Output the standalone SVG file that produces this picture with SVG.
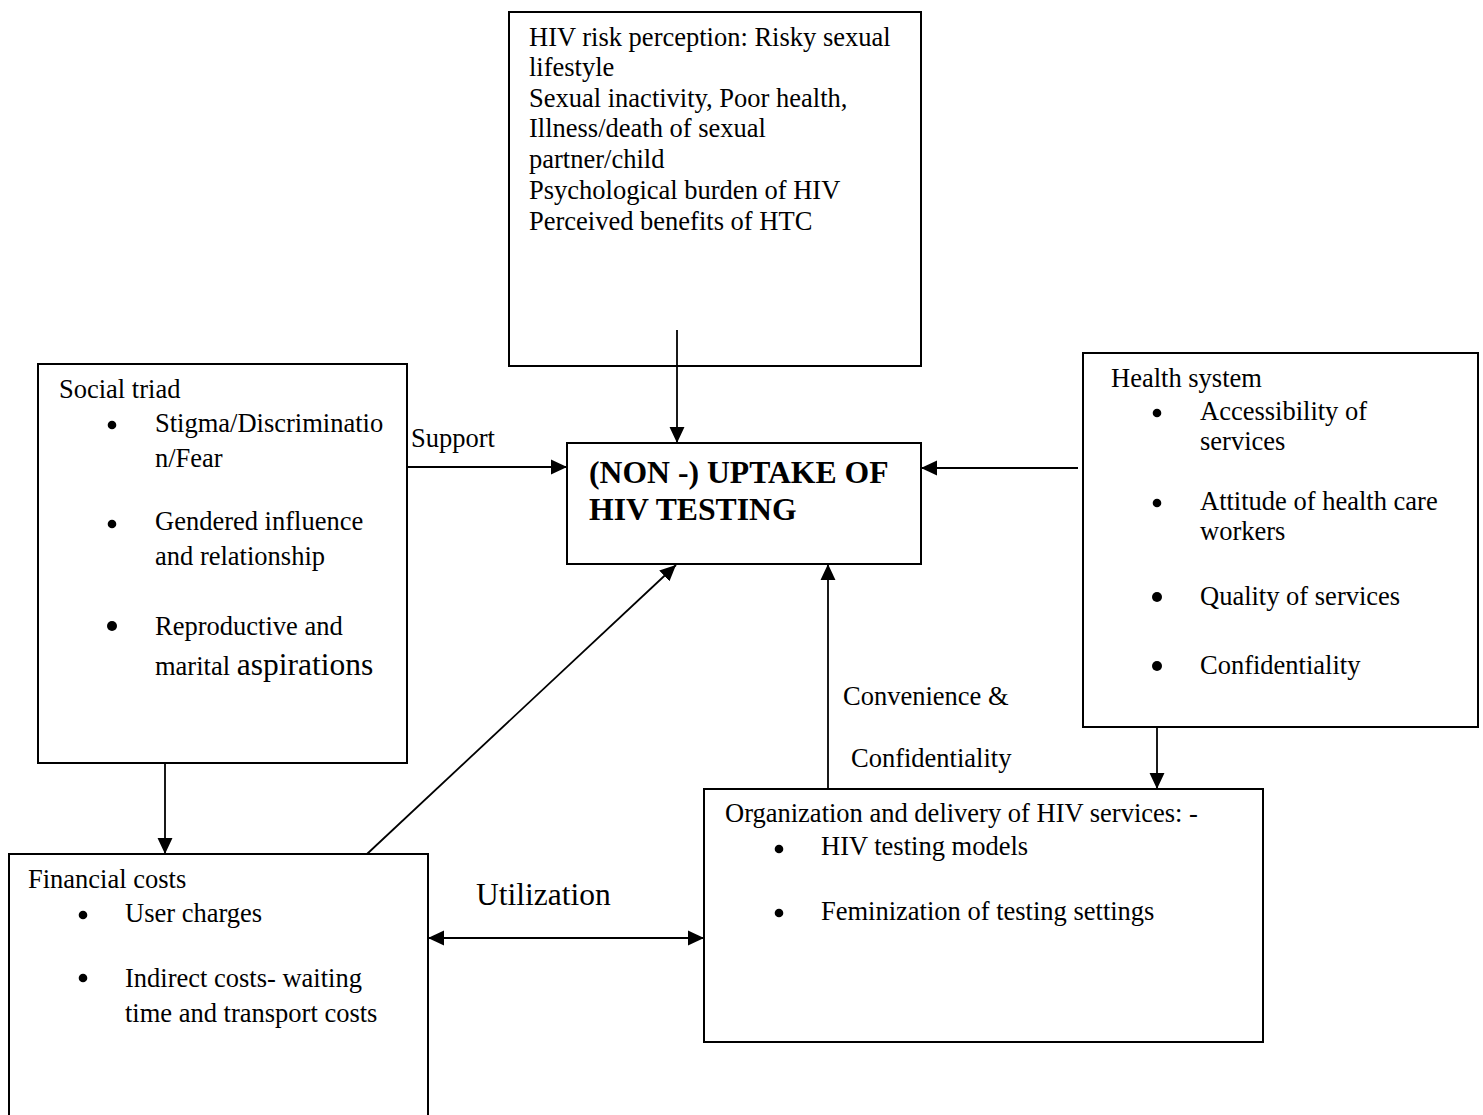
<svg xmlns="http://www.w3.org/2000/svg" width="1483" height="1115" viewBox="0 0 1483 1115">
<defs>
<style>
.box{fill:#fff;stroke:#000;stroke-width:2}
.t{font-family:"Liberation Serif","Times New Roman",serif;font-size:26.5px;fill:#000}
.big{font-size:31.5px}
.title{font-family:"Liberation Serif","Times New Roman",serif;font-size:31.7px;font-weight:bold;fill:#000}
.dot{fill:#000}
.c{stroke:#000;stroke-width:1.8;fill:none}
</style>
<marker id="ah" markerUnits="userSpaceOnUse" markerWidth="16" markerHeight="16" refX="15" refY="7" orient="auto-start-reverse" viewBox="0 0 15 14">
<path d="M0,0 L15,7 L0,14 z" fill="#000"/>
</marker>
</defs>
<rect width="1483" height="1115" fill="#fff"/>

<g id="risk">
<rect class="box" x="509" y="12" width="412" height="354"/>
<text class="t" x="529" y="46">HIV risk perception: Risky sexual</text>
<text class="t" x="529" y="76">lifestyle</text>
<text class="t" x="529" y="107">Sexual inactivity, Poor health,</text>
<text class="t" x="529" y="137">Illness/death of sexual</text>
<text class="t" x="529" y="168">partner/child</text>
<text class="t" x="529" y="199">Psychological burden of HIV</text>
<text class="t" x="529" y="230">Perceived benefits of HTC</text>
</g>

<g id="uptake">
<rect class="box" x="567" y="443" width="354" height="121"/>
<text class="title" x="589" y="483">(NON -) UPTAKE OF</text>
<text class="title" x="589" y="520">HIV TESTING</text>
</g>

<g id="social">
<rect class="box" x="38" y="364" width="369" height="399"/>
<text class="t" x="59" y="398">Social triad</text>
<circle class="dot" cx="112" cy="425" r="4.3"/>
<text class="t" x="155" y="432">Stigma/Discriminatio</text>
<text class="t" x="155" y="467">n/Fear</text>
<circle class="dot" cx="112" cy="524" r="4.3"/>
<text class="t" x="155" y="530">Gendered influence</text>
<text class="t" x="155" y="565">and relationship</text>
<circle class="dot" cx="112" cy="626" r="5"/>
<text class="t" x="155" y="635">Reproductive and</text>
<text class="t" x="155" y="675">marital <tspan class="big">aspirations</tspan></text>
</g>

<g id="health">
<rect class="box" x="1083" y="353" width="395" height="374"/>
<text class="t" x="1111" y="387">Health system</text>
<circle class="dot" cx="1157" cy="413" r="4.3"/>
<text class="t" x="1200" y="420">Accessibility of</text>
<text class="t" x="1200" y="450">services</text>
<circle class="dot" cx="1157" cy="503" r="4.3"/>
<text class="t" x="1200" y="510">Attitude of health care</text>
<text class="t" x="1200" y="540">workers</text>
<circle class="dot" cx="1157" cy="597" r="5"/>
<text class="t" x="1200" y="605">Quality of services</text>
<circle class="dot" cx="1157" cy="666" r="5"/>
<text class="t" x="1200" y="674">Confidentiality</text>
</g>

<g id="financial">
<rect class="box" x="9" y="854" width="419" height="280"/>
<text class="t" x="28" y="888">Financial costs</text>
<circle class="dot" cx="83" cy="915" r="4.3"/>
<text class="t" x="125" y="922">User charges</text>
<circle class="dot" cx="83" cy="978" r="4.3"/>
<text class="t" x="125" y="987">Indirect costs- waiting</text>
<text class="t" x="125" y="1022">time and transport costs</text>
</g>

<g id="organization">
<rect class="box" x="704" y="789" width="559" height="253"/>
<text class="t" x="725" y="822">Organization and delivery of HIV services: -</text>
<circle class="dot" cx="779" cy="849" r="4.3"/>
<text class="t" x="821" y="855">HIV testing models</text>
<circle class="dot" cx="779" cy="913" r="4.3"/>
<text class="t" x="821" y="920">Feminization of testing settings</text>
</g>

<g id="connectors">
<line class="c" x1="677" y1="330" x2="677" y2="443" marker-end="url(#ah)"/>
<line class="c" x1="407" y1="467" x2="567" y2="467" marker-end="url(#ah)"/>
<line class="c" x1="1078" y1="468" x2="921" y2="468" marker-end="url(#ah)"/>
<line class="c" x1="165" y1="763" x2="165" y2="854" marker-end="url(#ah)"/>
<line class="c" x1="367" y1="854" x2="676" y2="565" marker-end="url(#ah)"/>
<line class="c" x1="828" y1="789" x2="828" y2="564" marker-end="url(#ah)"/>
<line class="c" x1="1157" y1="727" x2="1157" y2="789" marker-end="url(#ah)"/>
<line class="c" x1="428" y1="938" x2="704" y2="938" marker-start="url(#ah)" marker-end="url(#ah)"/>
<text class="t" x="411" y="447">Support</text>
<text class="t" x="843" y="705">Convenience &amp;</text>
<text class="t" x="851" y="767">Confidentiality</text>
<text class="t big" x="476" y="905">Utilization</text>
</g>
</svg>
